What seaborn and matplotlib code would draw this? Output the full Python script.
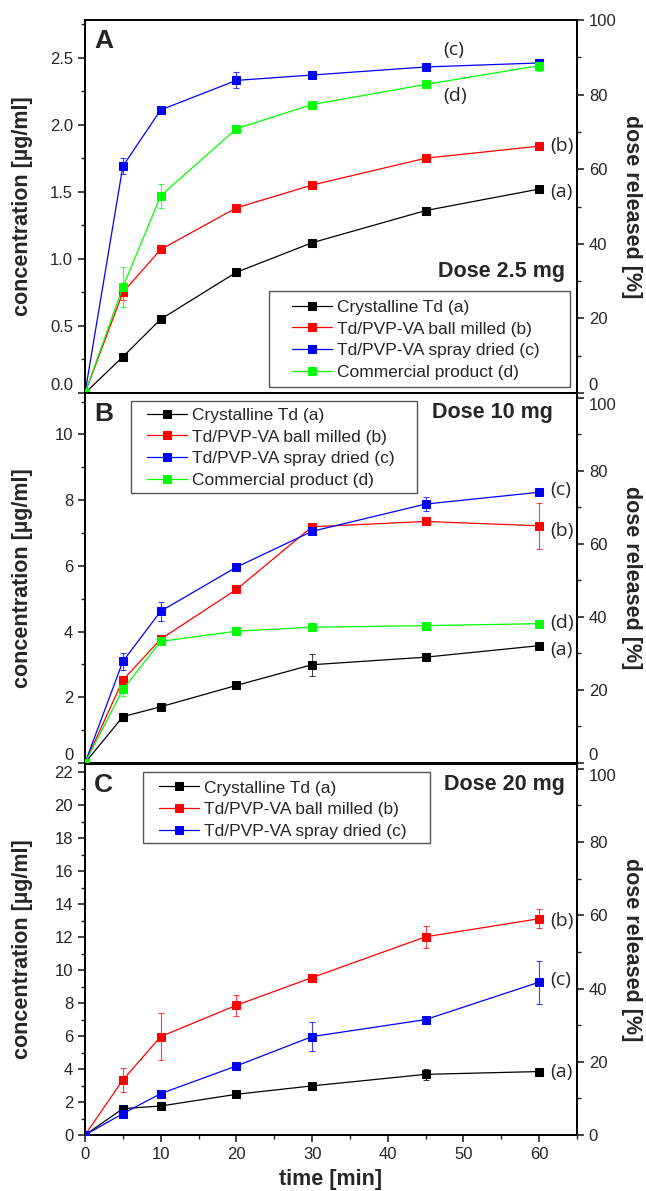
import numpy as np
import pandas as pd
import matplotlib
matplotlib.use("Agg")
import matplotlib.pyplot as plt
from matplotlib.ticker import MultipleLocator
from matplotlib.patches import Rectangle
import seaborn as sns

sns.set_theme(style="ticks")
plt.rcParams['font.family'] = ['Liberation Sans', 'DejaVu Sans']

# sampling times [min]
time = [0, 5, 10, 20, 30, 45, 60]

series_names = ["Crystalline Td (a)", "Td/PVP-VA ball milled (b)",
                "Td/PVP-VA spray dried (c)", "Commercial product (d)"]
series_colors = ["#000000", "#ff0000", "#0000ff", "#00ff00"]

# Panel A - dose 2.5 mg
a_cryst = [0, 0.27, 0.55, 0.90, 1.12, 1.36, 1.52]
a_cryst_err = [0, 0.01, 0.01, 0.02, 0.02, 0.01, 0.01]
a_ball = [0, 0.75, 1.07, 1.38, 1.55, 1.75, 1.84]
a_ball_err = [0, 0.06, 0.02, 0.02, 0.02, 0.01, 0.01]
a_spray = [0, 1.69, 2.11, 2.33, 2.37, 2.43, 2.46]
a_spray_err = [0, 0.06, 0.02, 0.06, 0.02, 0.02, 0.03]
a_comm = [0, 0.79, 1.47, 1.97, 2.15, 2.30, 2.44]
a_comm_err = [0, 0.15, 0.09, 0.02, 0.03, 0.02, 0.04]

# Panel B - dose 10 mg
b_cryst = [0, 1.41, 1.71, 2.36, 2.99, 3.22, 3.57]
b_cryst_err = [0, 0.12, 0.05, 0.05, 0.34, 0.05, 0.05]
b_ball = [0, 2.52, 3.77, 5.28, 7.19, 7.35, 7.22]
b_ball_err = [0, 0.12, 0.08, 0.08, 0.08, 0.08, 0.70]
b_spray = [0, 3.09, 4.62, 5.96, 7.05, 7.88, 8.24]
b_spray_err = [0, 0.27, 0.29, 0.08, 0.08, 0.21, 0.06]
b_comm = [0, 2.24, 3.70, 4.01, 4.13, 4.18, 4.24]
b_comm_err = [0, 0.20, 0.06, 0.05, 0.05, 0.05, 0.05]

# Panel C - dose 20 mg
c_cryst = [0, 1.60, 1.76, 2.47, 2.98, 3.68, 3.85]
c_cryst_err = [0, 0.10, 0.08, 0.08, 0.08, 0.35, 0.10]
c_ball = [0, 3.34, 5.97, 7.87, 9.55, 12.02, 13.12]
c_ball_err = [0, 0.75, 1.45, 0.64, 0.10, 0.65, 0.56]
c_spray = [0, 1.30, 2.51, 4.19, 5.97, 7.00, 9.27]
c_spray_err = [0, 0.10, 0.10, 0.10, 0.86, 0.10, 1.31]

panels = [
    dict(letter="A", dose="Dose 2.5 mg", ymax=2.78, rmax=100, major=0.5, minor=0.25, fmt="{:.1f}",
         data=[(a_cryst, a_cryst_err), (a_ball, a_ball_err), (a_spray, a_spray_err), (a_comm, a_comm_err)],
         labels=[(61.4, 1.50), (61.4, 1.84), (47.3, 2.56), (47.3, 2.21)],
         leg_anchor=(0.421, 0.250), leg_box=(0.374, 0.016, 0.986, 0.2735),
         dose_pos=(0.975, 0.327, "center"), low_shift=True, top_shift=False),
    dict(letter="B", dose="Dose 10 mg", ymax=11.26, rmax=101.3, major=2, minor=1, fmt="{:.0f}",
         data=[(b_cryst, b_cryst_err), (b_ball, b_ball_err), (b_spray, b_spray_err), (b_comm, b_comm_err)],
         labels=[(61.4, 3.45), (61.4, 7.05), (61.4, 8.30), (61.4, 4.25)],
         leg_anchor=(0.126, 0.960), leg_box=(0.0935, 0.730, 0.675, 0.978),
         dose_pos=(0.95, 0.977, "top"), low_shift=True, top_shift=True),
    dict(letter="C", dose="Dose 20 mg", ymax=22.5, rmax=101.3, major=2, minor=1, fmt="{:.0f}",
         data=[(c_cryst, c_cryst_err), (c_ball, c_ball_err), (c_spray, c_spray_err)],
         labels=[(61.4, 3.80), (61.4, 12.95), (61.4, 9.40)],
         leg_anchor=(0.150, 0.956), leg_box=(0.118, 0.787, 0.701, 0.978),
         dose_pos=(0.975, 0.972, "top"), low_shift=False, top_shift=True),
]

fig = plt.figure(figsize=(6.46, 11.91), dpi=100)
left, width = 0.1316, 0.7616
bottoms = [0.670, 0.3594, 0.047]
heights = [0.3132, 0.3106, 0.3115]
tags = ["(a)", "(b)", "(c)", "(d)"]

for i, p in enumerate(panels):
    ax = fig.add_axes([left, bottoms[i], width, heights[i]])
    for j, (vals, errs) in enumerate(p["data"]):
        col = series_colors[j]
        ax.errorbar(time, vals, yerr=errs, fmt="none", ecolor=col, elinewidth=0.8,
                    capsize=2.5, capthick=0.8, alpha=0.75, zorder=2)
        sns.lineplot(x=time, y=vals, color=col, marker="s", markersize=5.5,
                     markeredgecolor=col, linewidth=0.9, label=series_names[j],
                     ax=ax, zorder=3)
        tx, ty = p["labels"][j]
        ax.text(tx, ty, tags[j], fontsize=14, family=['Open Sans', 'DejaVu Sans'],
                ha="left", va="center")

    ax.set_xlim(0, 65)
    ax.set_ylim(0, p["ymax"])
    ax.xaxis.set_major_locator(MultipleLocator(10))
    ax.xaxis.set_minor_locator(MultipleLocator(5))
    yt = np.arange(0, p["ymax"], p["major"])
    ax.set_yticks(yt)
    ax.set_yticklabels([p["fmt"].format(v) for v in yt])
    ax.yaxis.set_minor_locator(MultipleLocator(p["minor"]))
    ax.tick_params(axis="both", which="major", length=5, width=1.2, labelsize=12, direction="out")
    ax.tick_params(axis="both", which="minor", length=3, width=1.0, direction="out")
    ax.tick_params(axis="x", top=False, which="both")
    if i < 2:
        ax.tick_params(axis="x", bottom=False, labelbottom=False, which="both")
        ax.set_xlabel("")
    else:
        ax.set_xlabel("time [min]", fontsize=15.5, fontweight="bold", labelpad=5)
    for s in ax.spines.values():
        s.set_linewidth(1.4)
        s.set_color("black")
    ax.set_ylabel("concentration [µg/ml]", fontsize=15.5, fontweight="bold")
    ax.yaxis.set_label_coords(-0.106, 0.5)

    ax2 = ax.twinx()
    ax2.set_ylim(0, p["rmax"])
    ax2.set_yticks(np.arange(0, 101, 20))
    ax2.yaxis.set_minor_locator(MultipleLocator(10))
    ax2.tick_params(axis="y", which="major", length=5, width=1.2, labelsize=12, direction="out")
    ax2.tick_params(axis="y", which="minor", length=3, width=1.0, direction="out")
    ax2.set_ylabel("dose released [%]", fontsize=15.5, fontweight="bold", rotation=-90, va="bottom")
    ax2.yaxis.set_label_coords(1.09, 0.5)
    for s in ax2.spines.values():
        s.set_linewidth(1.4)

    # labels at the panel joints are nudged off the shared border
    if p["low_shift"]:
        ax.yaxis.get_major_ticks()[0].label1.set_verticalalignment("bottom")
        ax2.yaxis.get_major_ticks()[0].label2.set_verticalalignment("bottom")
    if p["top_shift"]:
        ax2.yaxis.get_major_ticks()[-1].label2.set_verticalalignment("top")

    ax.text(0.018, 0.975, p["letter"], transform=ax.transAxes, fontsize=19,
            fontweight="bold", ha="left", va="top")
    dx, dy, dva = p["dose_pos"]
    ax.text(dx, dy, p["dose"], transform=ax.transAxes, fontsize=15.5,
            fontweight="bold", ha="right", va=dva)

    leg = ax.legend(fontsize=12.5, frameon=False, loc="upper left",
                    bbox_to_anchor=p["leg_anchor"], borderaxespad=0, borderpad=0,
                    handlelength=2.3, labelspacing=0.37, handletextpad=0.3)
    leg.set_zorder(5)
    x0, y0, x1, y1 = p["leg_box"]
    ax.add_patch(Rectangle((x0, y0), x1 - x0, y1 - y0, transform=ax.transAxes,
                           facecolor="white", edgecolor="#555555", linewidth=1.0, zorder=4))
    ax.set_zorder(ax2.get_zorder() + 1)
    ax.patch.set_visible(False)

fig.savefig("out.png", dpi=100)
